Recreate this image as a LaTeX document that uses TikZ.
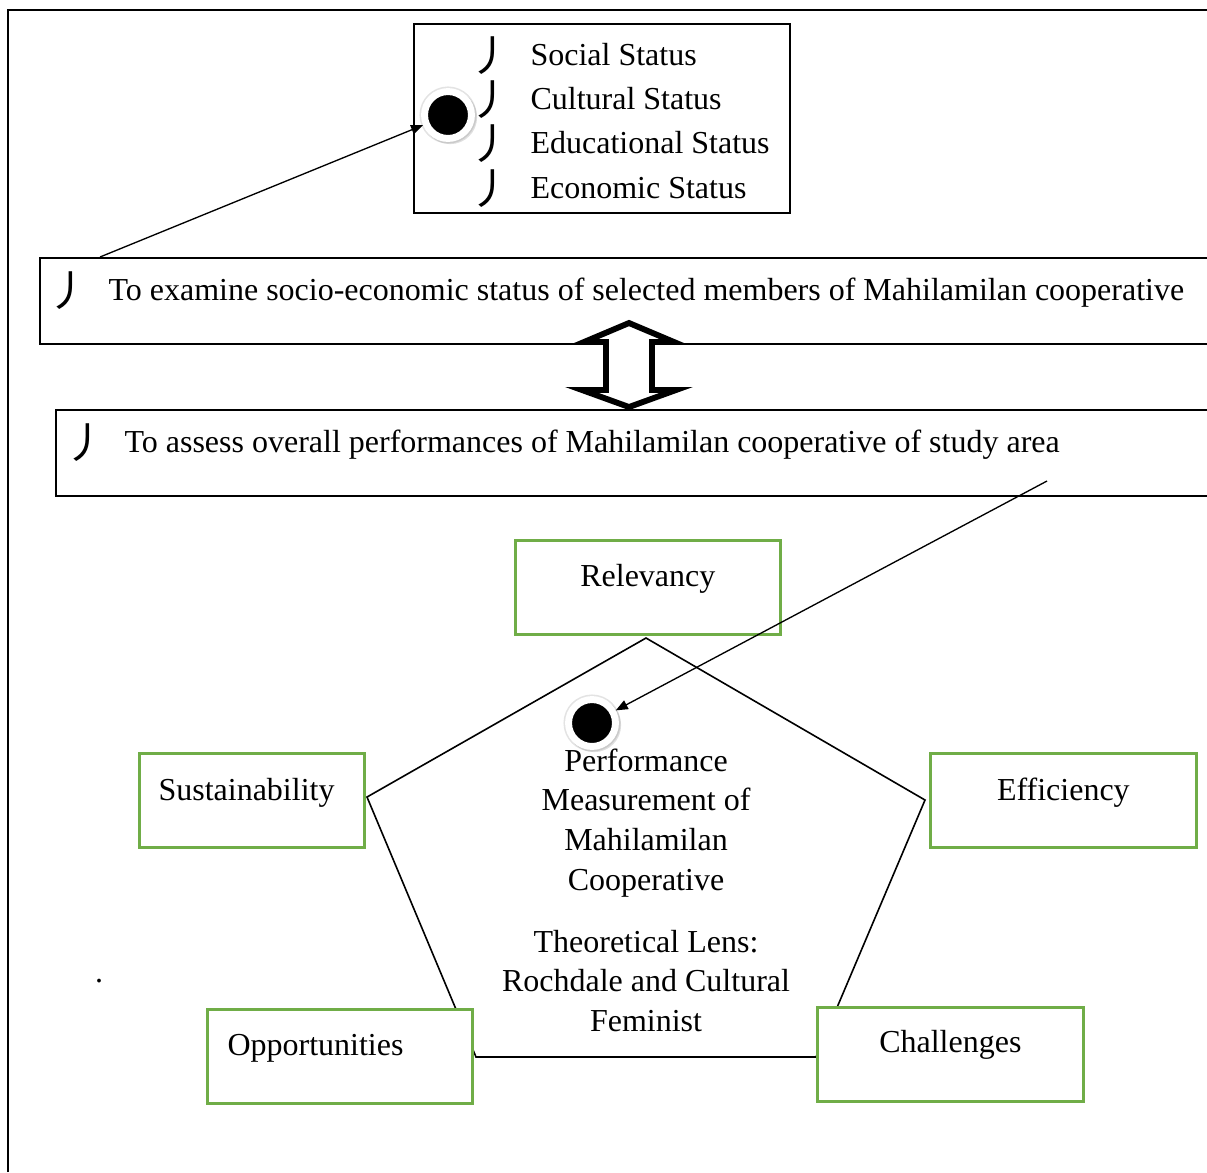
\documentclass[tikz,border=0pt]{standalone}
\usepackage{fontspec}
\setmainfont{Liberation Serif}
\newfontfamily\cjk{Noto Sans CJK SC}
\usetikzlibrary{arrows.meta,calc,shadows}
\definecolor{lensgreen}{HTML}{70AD47}

\begin{document}
\begin{tikzpicture}[x=0.375pt,y=-0.375pt,
    every node/.style={font=\fontsize{12}{14}\selectfont, inner sep=0pt},
    objbox/.style={draw, line width=0.8pt, anchor=north west, minimum height=32.25pt},
    lensbox/.style={draw=lensgreen, line width=1pt, fill=white, anchor=north west, minimum height=35.25pt},
    bul/.style={font=\cjk\fontsize{16}{16}\selectfont, anchor=base},
    dot/.style={circle, fill=black, draw=white, line width=2.6pt, minimum size=17.6pt,
      preaction={draw=gray!22, line width=3.8pt},
      drop shadow={shadow xshift=0.7pt, shadow yshift=-0.7pt, shadow scale=1.15, opacity=0.25}},
    conn/.style={-{Triangle[length=4.5pt,width=3.6pt]}, line width=0.5pt}]
  \useasboundingbox (0,0) rectangle (1207,1172);
  \clip (0,0) rectangle (1207,1172);
  % page frame
  \draw[line width=0.5pt] (8,1172) -- (8,10) -- (1207,10);

  % status box
  \node[draw, line width=0.8pt, anchor=north west, minimum width=141pt, minimum height=70.9pt] (status) at (413,23) {};
  \foreach \t [count=\i] in {Social Status, Cultural Status, Educational Status, Economic Status} {
    \node[bul] (b\i) at (491,26.6+44.4*\i) {丿};
    \node[anchor=base west] (s\i) at (530,20.6+44.4*\i) {\t};
  }

  % objectives
  \node[objbox, minimum width=442.5pt] (obj1) at (39,257) {};
  \node[bul] (b5) at (69,306) {丿};
  \node[anchor=base west] (o1) at (108,300) {To examine socio-economic status of selected members of Mahilamilan cooperative};
  \node[objbox, minimum width=436.5pt] (obj2) at (55,409) {};
  \node[bul] (b6) at (86,458) {丿};
  \node[anchor=base west] (o2) at (124,452) {To assess overall performances of Mahilamilan cooperative of study area};

  % double arrow
  \draw[line width=2.2pt, fill=white, miter limit=10] (629,323) -- (674,342) -- (652,342) -- (652,390)
    -- (676,390) -- (629,407) -- (582,390) -- (606,390) -- (606,342) -- (584,342) -- cycle;

  % pentagon
  \draw[line width=0.6pt] (646,638) -- (925,800) -- (816,1057) -- (476,1057) -- (367,797) -- cycle;
  \foreach \t [count=\i] in {Performance, Measurement of, Mahilamilan, Cooperative}
    \node[anchor=base] (p\i) at (646,{771+39.7*(\i-1)}) {\t};
  \foreach \t [count=\i] in {Theoretical Lens:, Rochdale and Cultural, Feminist}
    \node[anchor=base] (t\i) at (646,{952+39.5*(\i-1)}) {\t};

  % lens boxes
  \foreach \n/\x/\y/\w in {rel/514/539/265, sus/138/752/225, eff/929/752/266, opp/206/1008/265, cha/816/1006/266}
    \node[lensbox, minimum width=\w*0.375pt] (\n) at (\x,\y) {};
  \node[anchor=base] (relt) at ($(rel.north)+(0,47)$) {Relevancy};
  \node[anchor=base west] (sust) at ($(sus.north west)+(20,48)$) {Sustainability};
  \node[anchor=base] (efft) at ($(eff.north)+(0,48)$) {Efficiency};
  \node[anchor=base west] (oppt) at ($(opp.north west)+(21,47)$) {Opportunities};
  \node[anchor=base] (chat) at ($(cha.north)+(0,46)$) {Challenges};
  \node[anchor=base] (pt) at (99,982) {.};

  % links
  \coordinate (s1) at (100,257);
  \coordinate (s2) at (1047,481);
  \node[dot] (dot1) at (448,115) {};
  \node[dot] (dot2) at (592,723) {};
  \draw[conn] (s1) -- (dot1);
  \draw[conn] (s2) -- (dot2);
\end{tikzpicture}
\end{document}
